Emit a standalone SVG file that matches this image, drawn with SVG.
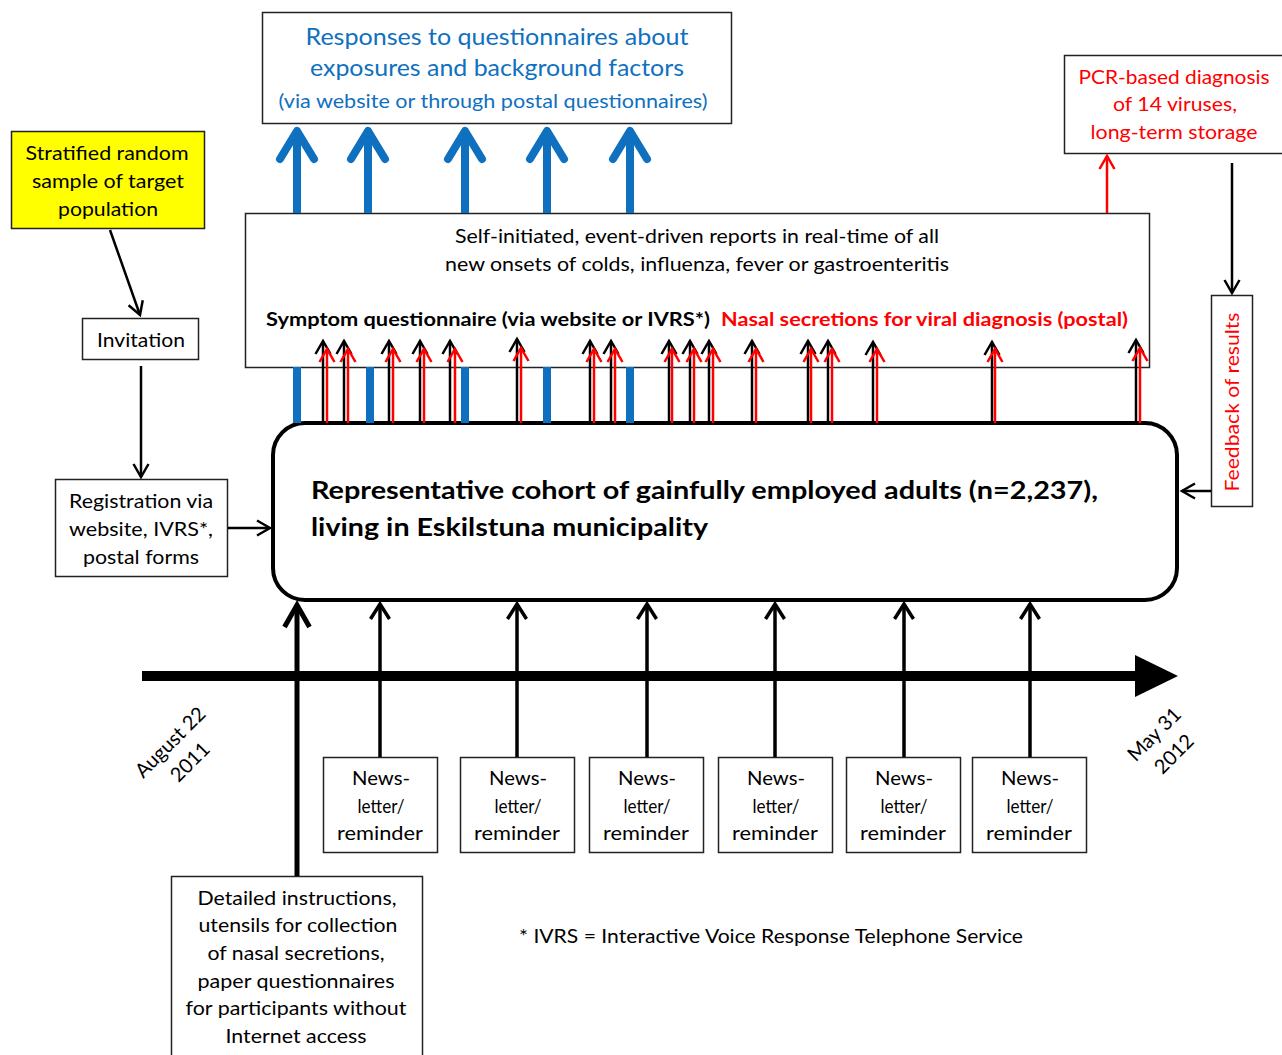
<svg xmlns="http://www.w3.org/2000/svg" width="1282" height="1055" viewBox="0 0 1282 1055">
<style>
text{font-family:Lato,"Liberation Sans",sans-serif;fill:#000}
.box{fill:#fff;stroke:#222;stroke-width:1.5}
.t20{font-size:20px;text-anchor:middle}
.t19{font-size:19px}
.blue{fill:#1070c0}
.red{fill:#ff0000}
.b{font-weight:bold}
.cb{font-size:25px;font-weight:bold}
.conn{fill:none;stroke-linecap:butt}
.k{stroke:#000;stroke-width:2.5}
.r{stroke:#ff0000;stroke-width:2.5}
.bl{stroke:#1070c0;stroke-width:8}
.n{stroke:#000;stroke-width:3.5}
.L{stroke:#000;stroke-width:5}
</style>
<defs>
<marker id="mk" markerUnits="userSpaceOnUse" orient="auto" overflow="visible" markerWidth="1" markerHeight="1"><path d="M-13,-7.5 L0,0 L-13,7.5" fill="none" stroke="#000" stroke-width="2.5"/></marker>
<marker id="mr" markerUnits="userSpaceOnUse" orient="auto" overflow="visible" markerWidth="1" markerHeight="1"><path d="M-13,-7.5 L0,0 L-13,7.5" fill="none" stroke="#ff0000" stroke-width="2.5"/></marker>
<marker id="mb" markerUnits="userSpaceOnUse" orient="auto" overflow="visible" markerWidth="1" markerHeight="1"><path d="M-28,-17 L0,0 L-28,17" fill="none" stroke="#1070c0" stroke-width="8" stroke-linecap="round" stroke-linejoin="round"/></marker>
<marker id="mn" markerUnits="userSpaceOnUse" orient="auto" overflow="visible" markerWidth="1" markerHeight="1"><path d="M-15,-9.5 L0,0 L-15,9.5" fill="none" stroke="#000" stroke-width="3.5"/></marker>
<marker id="mL" markerUnits="userSpaceOnUse" orient="auto" overflow="visible" markerWidth="1" markerHeight="1"><path d="M-22,-12.5 L0,0 L-22,12.5" fill="none" stroke="#000" stroke-width="5"/></marker>
</defs>

<g id="nodes">
<g id="responses">
<rect class="box" x="262.5" y="12.5" width="469" height="111"/>
<text class="blue" x="497" y="45" font-size="23" text-anchor="middle" textLength="383" lengthAdjust="spacingAndGlyphs">Responses to questionnaires about</text>
<text class="blue" x="497" y="76" font-size="23" text-anchor="middle" textLength="374" lengthAdjust="spacingAndGlyphs">exposures and background factors</text>
<text class="blue" x="493" y="108" font-size="19" text-anchor="middle" textLength="429" lengthAdjust="spacingAndGlyphs">(via website or through postal questionnaires)</text>
</g>
<g id="sample">
<rect x="11.5" y="131.5" width="193" height="97" fill="#ffff00" stroke="#222" stroke-width="1.5"/>
<text class="t20" x="107" y="160" textLength="163" lengthAdjust="spacingAndGlyphs">Stratified random</text>
<text class="t20" x="108" y="188" textLength="152" lengthAdjust="spacingAndGlyphs">sample of target</text>
<text class="t20" x="108" y="216" textLength="100" lengthAdjust="spacingAndGlyphs">population</text>
</g>
<g id="invitation">
<rect class="box" x="82.5" y="318.5" width="116" height="41"/>
<text class="t20" x="141" y="347" textLength="88" lengthAdjust="spacingAndGlyphs">Invitation</text>
</g>
<g id="registration">
<rect class="box" x="55.5" y="479.5" width="172" height="97"/>
<text class="t20" x="141" y="508" textLength="144" lengthAdjust="spacingAndGlyphs">Registration via</text>
<text class="t20" x="141" y="536" textLength="144" lengthAdjust="spacingAndGlyphs">website, IVRS*,</text>
<text class="t20" x="141" y="564" textLength="116" lengthAdjust="spacingAndGlyphs">postal forms</text>
</g>
<g id="reports">
<rect class="box" x="245.5" y="213.5" width="904" height="154"/>
<text class="t19" x="697" y="243" text-anchor="middle" textLength="484" lengthAdjust="spacingAndGlyphs">Self-initiated, event-driven reports in real-time of all</text>
<text class="t19" x="697" y="271" text-anchor="middle" textLength="504" lengthAdjust="spacingAndGlyphs">new onsets of colds, influenza, fever or gastroenteritis</text>
<text class="t19 b" x="266" y="326" textLength="444" lengthAdjust="spacingAndGlyphs">Symptom questionnaire (via website or IVRS*)</text>
<text class="t19 b red" x="721" y="326" textLength="407" lengthAdjust="spacingAndGlyphs">Nasal secretions for viral diagnosis (postal)</text>
</g>
<g id="pcr">
<rect class="box" x="1064.5" y="55.5" width="220" height="98"/>
<text class="t20 red" x="1174" y="84" textLength="191" lengthAdjust="spacingAndGlyphs">PCR-based diagnosis</text>
<text class="t20 red" x="1175" y="111" textLength="124" lengthAdjust="spacingAndGlyphs">of 14 viruses,</text>
<text class="t20 red" x="1174" y="139" textLength="167" lengthAdjust="spacingAndGlyphs">long-term storage</text>
</g>
<g id="feedback">
<rect class="box" x="1211.5" y="295.5" width="41" height="211"/>
<text class="t20 red" transform="translate(1232,402) rotate(-90)" x="0" y="7" textLength="179" lengthAdjust="spacingAndGlyphs">Feedback of results</text>
</g>
<g id="cohort">
<rect x="273" y="423" width="904" height="177" rx="32" fill="#fff" stroke="#000" stroke-width="4"/>
<text class="cb" x="311" y="499" textLength="787" lengthAdjust="spacingAndGlyphs">Representative cohort of gainfully employed adults (n=2,237),</text>
<text class="cb" x="311" y="536" textLength="397" lengthAdjust="spacingAndGlyphs">living in Eskilstuna municipality</text>
</g>
<g id="news1"><rect class="box" x="323.5" y="757.5" width="114" height="95"/>
<text class="t20" x="381" y="785" textLength="58" lengthAdjust="spacingAndGlyphs">News-</text><text class="t20" x="381" y="813" textLength="47" lengthAdjust="spacingAndGlyphs">letter/</text><text class="t20" x="380" y="840" textLength="86" lengthAdjust="spacingAndGlyphs">reminder</text></g>
<g id="news2"><rect class="box" x="460.5" y="757.5" width="114" height="95"/>
<text class="t20" x="518" y="785" textLength="58" lengthAdjust="spacingAndGlyphs">News-</text><text class="t20" x="518" y="813" textLength="47" lengthAdjust="spacingAndGlyphs">letter/</text><text class="t20" x="517" y="840" textLength="86" lengthAdjust="spacingAndGlyphs">reminder</text></g>
<g id="news3"><rect class="box" x="589.5" y="757.5" width="114" height="95"/>
<text class="t20" x="647" y="785" textLength="58" lengthAdjust="spacingAndGlyphs">News-</text><text class="t20" x="647" y="813" textLength="47" lengthAdjust="spacingAndGlyphs">letter/</text><text class="t20" x="646" y="840" textLength="86" lengthAdjust="spacingAndGlyphs">reminder</text></g>
<g id="news4"><rect class="box" x="718.5" y="757.5" width="114" height="95"/>
<text class="t20" x="776" y="785" textLength="58" lengthAdjust="spacingAndGlyphs">News-</text><text class="t20" x="776" y="813" textLength="47" lengthAdjust="spacingAndGlyphs">letter/</text><text class="t20" x="775" y="840" textLength="86" lengthAdjust="spacingAndGlyphs">reminder</text></g>
<g id="news5"><rect class="box" x="846.5" y="757.5" width="114" height="95"/>
<text class="t20" x="904" y="785" textLength="58" lengthAdjust="spacingAndGlyphs">News-</text><text class="t20" x="904" y="813" textLength="47" lengthAdjust="spacingAndGlyphs">letter/</text><text class="t20" x="903" y="840" textLength="86" lengthAdjust="spacingAndGlyphs">reminder</text></g>
<g id="news6"><rect class="box" x="972.5" y="757.5" width="114" height="95"/>
<text class="t20" x="1030" y="785" textLength="58" lengthAdjust="spacingAndGlyphs">News-</text><text class="t20" x="1030" y="813" textLength="47" lengthAdjust="spacingAndGlyphs">letter/</text><text class="t20" x="1029" y="840" textLength="86" lengthAdjust="spacingAndGlyphs">reminder</text></g>
<g id="instructions">
<rect class="box" x="171.5" y="876.5" width="251" height="185"/>
<text class="t20" x="297" y="905" textLength="199" lengthAdjust="spacingAndGlyphs">Detailed instructions,</text>
<text class="t20" x="298" y="932" textLength="199" lengthAdjust="spacingAndGlyphs">utensils for collection</text>
<text class="t20" x="296" y="960" textLength="177" lengthAdjust="spacingAndGlyphs">of nasal secretions,</text>
<text class="t20" x="296" y="988" textLength="197" lengthAdjust="spacingAndGlyphs">paper questionnaires</text>
<text class="t20" x="296" y="1015" textLength="221" lengthAdjust="spacingAndGlyphs">for participants without</text>
<text class="t20" x="296" y="1043" textLength="141" lengthAdjust="spacingAndGlyphs">Internet access</text>
</g>
<g id="date-start" transform="translate(180,752) rotate(-45)">
<text class="t20" x="0" y="-7">August 22</text>
<text class="t20" x="0" y="21">2011</text>
</g>
<g id="date-end" transform="translate(1164,744) rotate(-45)">
<text class="t20" x="0" y="-7">May 31</text>
<text class="t20" x="0" y="21">2012</text>
</g>
<g id="footnote">
<text class="t19" x="519" y="943" textLength="504" lengthAdjust="spacingAndGlyphs">* IVRS = Interactive Voice Response Telephone Service</text>
</g>
</g>

<g id="connectors" class="conn">
<!-- blue arrows -->
<path class="bl" d="M297,423V367M370,423V367M465,423V367M547,423V367M630,423V367"/>
<path class="bl" d="M297,213V131" marker-end="url(#mb)"/>
<path class="bl" d="M368,213V131" marker-end="url(#mb)"/>
<path class="bl" d="M465,213V131" marker-end="url(#mb)"/>
<path class="bl" d="M547,213V131" marker-end="url(#mb)"/>
<path class="bl" d="M630,213V131" marker-end="url(#mb)"/>
<!-- black symptom arrows -->
<path class="k" d="M323,423V341" marker-end="url(#mk)"/>
<path class="k" d="M344,423V341" marker-end="url(#mk)"/>
<path class="k" d="M389,423V341" marker-end="url(#mk)"/>
<path class="k" d="M420,423V341" marker-end="url(#mk)"/>
<path class="k" d="M450,423V341" marker-end="url(#mk)"/>
<path class="k" d="M517,423V339" marker-end="url(#mk)"/>
<path class="k" d="M590,423V341" marker-end="url(#mk)"/>
<path class="k" d="M611,423V341" marker-end="url(#mk)"/>
<path class="k" d="M669,423V341" marker-end="url(#mk)"/>
<path class="k" d="M690,423V341" marker-end="url(#mk)"/>
<path class="k" d="M709,423V341" marker-end="url(#mk)"/>
<path class="k" d="M752,423V341" marker-end="url(#mk)"/>
<path class="k" d="M808,423V341" marker-end="url(#mk)"/>
<path class="k" d="M828,423V341" marker-end="url(#mk)"/>
<path class="k" d="M873,423V342" marker-end="url(#mk)"/>
<path class="k" d="M992,423V342" marker-end="url(#mk)"/>
<path class="k" d="M1136,423V340" marker-end="url(#mk)"/>
<!-- red nasal arrows -->
<path class="r" d="M327,423V349" marker-end="url(#mr)"/>
<path class="r" d="M348,423V349" marker-end="url(#mr)"/>
<path class="r" d="M393,423V349" marker-end="url(#mr)"/>
<path class="r" d="M424,423V349" marker-end="url(#mr)"/>
<path class="r" d="M455,423V349" marker-end="url(#mr)"/>
<path class="r" d="M521,423V348" marker-end="url(#mr)"/>
<path class="r" d="M594,423V349" marker-end="url(#mr)"/>
<path class="r" d="M615,423V349" marker-end="url(#mr)"/>
<path class="r" d="M672,423V349" marker-end="url(#mr)"/>
<path class="r" d="M694,423V349" marker-end="url(#mr)"/>
<path class="r" d="M713,423V349" marker-end="url(#mr)"/>
<path class="r" d="M756,423V349" marker-end="url(#mr)"/>
<path class="r" d="M811,423V349" marker-end="url(#mr)"/>
<path class="r" d="M832,423V349" marker-end="url(#mr)"/>
<path class="r" d="M877,423V349" marker-end="url(#mr)"/>
<path class="r" d="M995,423V349" marker-end="url(#mr)"/>
<path class="r" d="M1140,423V348" marker-end="url(#mr)"/>
<!-- to PCR and feedback -->
<path class="r" d="M1107,213V156" marker-end="url(#mr)"/>
<path class="k" d="M1232,163V293" marker-end="url(#mk)"/>
<path class="k" d="M1211,491H1182" marker-end="url(#mk)"/>
<!-- left flow -->
<path class="k" d="M110,230L140,315" marker-end="url(#mk)"/>
<path class="k" d="M141,366V477" marker-end="url(#mk)"/>
<path class="k" d="M228,528H270" marker-end="url(#mk)"/>
<!-- timeline -->
<path d="M142,676H1140" stroke="#000" stroke-width="10"/>
<polygon points="1135,655 1178,676 1135,697" fill="#000" stroke="none"/>
<!-- newsletter arrows -->
<path class="n" d="M380,757V604" marker-end="url(#mn)"/>
<path class="n" d="M517,757V604" marker-end="url(#mn)"/>
<path class="n" d="M647,757V604" marker-end="url(#mn)"/>
<path class="n" d="M775,757V604" marker-end="url(#mn)"/>
<path class="n" d="M904,757V604" marker-end="url(#mn)"/>
<path class="n" d="M1030,757V604" marker-end="url(#mn)"/>
<path class="L" d="M297,876V605" marker-end="url(#mL)"/>
</g>
</svg>
